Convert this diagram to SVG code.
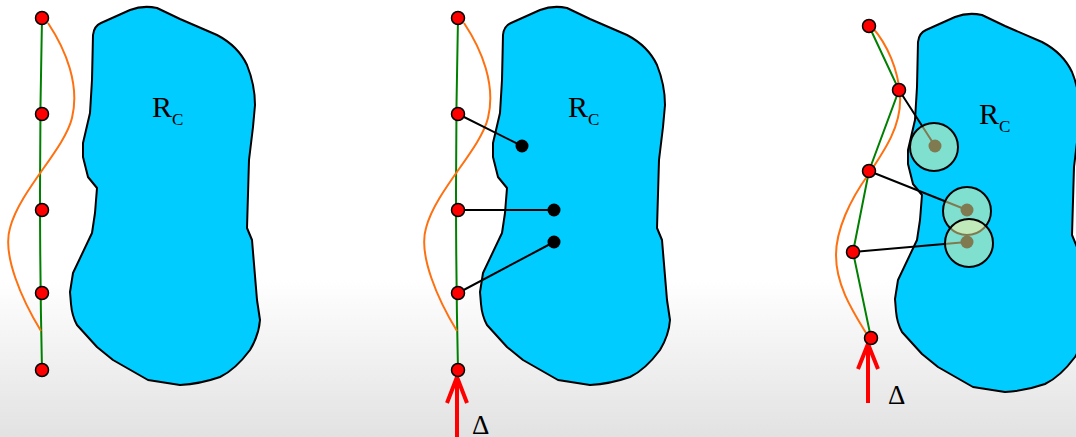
<svg xmlns="http://www.w3.org/2000/svg" xmlns:xlink="http://www.w3.org/1999/xlink" width="1076" height="437" viewBox="0 0 1076 437">
<style>
.blob{fill:#00ccff;stroke:#000;stroke-width:2;stroke-linejoin:round}
.green{fill:none;stroke:#008000;stroke-width:2}
.orange{fill:none;stroke:#ff7010;stroke-width:2}
.node{fill:#ff0000;stroke:#000;stroke-width:1.5}
.link{fill:none;stroke:#000;stroke-width:2}
.bdot{fill:#000}
.zone{fill:#fff4a1;fill-opacity:0.5;stroke:#000;stroke-width:2}
.arrow{fill:none;stroke:#ff0000;stroke-width:4}
.lbl{font-family:"Liberation Serif","Times New Roman",serif;fill:#000}
</style>
<defs>
<linearGradient id="bg" x1="0" y1="0" x2="0" y2="437" gradientUnits="userSpaceOnUse">
<stop offset="0.64" stop-color="#ffffff"/>
<stop offset="1" stop-color="#e2e2e2"/>
</linearGradient>
<path id="blobShape" d="M93,35 Q94,26 101,23 L130,10 Q143,5 157,8 L180,19 L217,35 Q238,46 247,65 Q255,85 255,105 L253,127 L249,160 L247,228 L252,240 L257,300 L260,320 Q259,335 250,350 Q235,370 220,377 Q200,384 180,385 L148,380 L113,360 L97,347 L77,325 Q72,316 71,304 L70,292 L73,273 L92,233 L95,213 L97,188 L88,177 L83,157 L83,143 L90,113 L92,80 Z"/>
</defs>
<rect x="0" y="0" width="1076" height="437" fill="url(#bg)"/>

<g id="region-1"><use xlink:href="#blobShape" class="blob"/></g>
<g id="region-2"><use xlink:href="#blobShape" class="blob" transform="translate(410,0)"/></g>
<g id="region-3"><use xlink:href="#blobShape" class="blob" transform="translate(825,7)"/></g>

<g id="labels">
<text class="lbl" x="152" y="117" font-size="30">R<tspan font-size="17" dy="7.5">C</tspan></text>
<text class="lbl" x="568" y="117" font-size="30">R<tspan font-size="17" dy="7.5">C</tspan></text>
<text class="lbl" x="979" y="124" font-size="30">R<tspan font-size="17" dy="7.5">C</tspan></text>
<text class="lbl" x="472" y="434" font-size="27">Δ</text>
<text class="lbl" x="888" y="404" font-size="27">Δ</text>
</g>

<g id="connectors">
<path class="green" d="M42,18 Q38,190 42,370"/>
<path class="orange" d="M48,23 C66,50 80,85 72,118 C64,150 20,190 10,228 C2,255 22,300 41,331"/>
<path class="green" d="M458,18 Q454,190 458,370"/>
<path class="orange" d="M464,23 C482,50 496,85 488,118 C480,150 436,190 426,228 C418,255 438,300 457,331"/>
<path class="link" d="M458,114 L522,146 M458,210 L554,210 M458,293 L554,242"/>
<path class="arrow" d="M457,437 L457,377 M447,403 L457,377 L467,403"/>
<polyline class="green" points="869,26 899,90 869,171 853,252 871,338"/>
<path class="orange" d="M872,27 C888,45 898,70 900,95 C902,125 885,150 868,175 C850,200 836,230 836,255 C836,285 852,310 866,333"/>
<path class="link" d="M899,90 L935,146 M869,171 L967,210 M853,252 L967,242"/>
<path class="arrow" d="M868,403 L868,344 M858,369 L868,344 L878,369"/>
</g>

<g id="nodes-1">
<circle class="node" cx="42" cy="18" r="6.5"/>
<circle class="node" cx="42" cy="114" r="6.5"/>
<circle class="node" cx="42" cy="210" r="6.5"/>
<circle class="node" cx="42" cy="293" r="6.5"/>
<circle class="node" cx="42" cy="370" r="6.5"/>
</g>
<g id="nodes-2">
<circle class="node" cx="458" cy="18" r="6.5"/>
<circle class="node" cx="458" cy="114" r="6.5"/>
<circle class="node" cx="458" cy="210" r="6.5"/>
<circle class="node" cx="458" cy="293" r="6.5"/>
<circle class="node" cx="458" cy="370" r="6.5"/>
<circle class="bdot" cx="522" cy="146" r="6.5"/>
<circle class="bdot" cx="554" cy="210" r="6.5"/>
<circle class="bdot" cx="554" cy="242" r="6.5"/>
</g>
<g id="nodes-3">
<circle class="node" cx="869" cy="26" r="6.5"/>
<circle class="node" cx="899" cy="90" r="6.5"/>
<circle class="node" cx="869" cy="171" r="6.5"/>
<circle class="node" cx="853" cy="252" r="6.5"/>
<circle class="node" cx="871" cy="338" r="6.5"/>
<circle class="bdot" cx="935" cy="146" r="6.5"/>
<circle class="bdot" cx="967" cy="210" r="6.5"/>
<circle class="bdot" cx="967" cy="242" r="6.5"/>
<circle class="zone" cx="934" cy="147" r="24"/>
<circle class="zone" cx="967" cy="211" r="24"/>
<circle class="zone" cx="969" cy="243" r="24"/>
</g>
</svg>
